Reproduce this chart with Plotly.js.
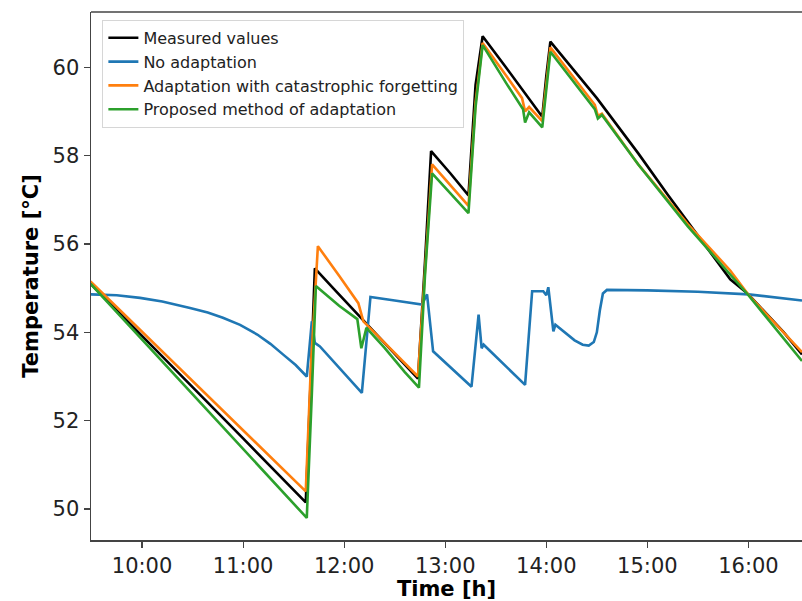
<!DOCTYPE html>
<html>
<head>
<meta charset="utf-8">
<script src="https://cdn.plot.ly/plotly-3.0.1.min.js"></script>
<style>html,body{margin:0;padding:0;background:#fff;}#chart{width:802px;height:601px;}</style>
</head>
<body>
<div id="chart"></div>
<script>
// Time in decimal hours, temperature in °C
const measured_t = [9.49, 10.0, 10.5, 11.0, 11.3, 11.62, 11.67, 11.71, 11.9, 12.16, 12.4, 12.6, 12.73, 12.80, 12.86, 13.05, 13.23, 13.30, 13.37, 13.6, 13.8, 13.96, 14.0, 14.04, 14.5, 14.91, 15.2, 15.5, 15.82, 16.0, 16.35, 16.53];
const measured_v = [55.1, 53.93, 52.76, 51.6, 50.9, 50.15, 53.0, 55.45, 54.98, 54.35, 53.76, 53.27, 52.95, 55.6, 58.1, 57.6, 57.1, 59.6, 60.7, 60.0, 59.38, 58.88, 59.8, 60.58, 59.3, 58.05, 57.12, 56.19, 55.2, 54.86, 54.0, 53.5];

const noadapt_t = [9.49, 9.75, 9.98, 10.2, 10.475, 10.65, 10.8, 10.97, 11.14, 11.27, 11.4, 11.52, 11.63, 11.68, 11.71, 11.76, 12.175, 12.26, 12.5, 12.77, 12.82, 12.88, 13.26, 13.33, 13.36, 13.38, 13.79, 13.86, 13.97, 14.0, 14.02, 14.07, 14.09, 14.18, 14.28, 14.36, 14.42, 14.47, 14.50, 14.53, 14.56, 14.6, 15.0, 15.5, 16.0, 16.53];
const noadapt_v = [54.86, 54.84, 54.78, 54.7, 54.55, 54.45, 54.33, 54.17, 53.95, 53.74, 53.49, 53.26, 53.0, 54.25, 53.76, 53.68, 52.63, 54.8, 54.72, 54.63, 54.86, 53.57, 52.77, 54.4, 53.64, 53.72, 52.81, 54.93, 54.93, 54.84, 55.02, 54.02, 54.17, 54.0, 53.82, 53.72, 53.7, 53.78, 54.0, 54.5, 54.88, 54.96, 54.95, 54.92, 54.86, 54.72];

const catastrophic_t = [9.49, 10.0, 10.5, 11.0, 11.3, 11.62, 11.67, 11.74, 11.95, 12.14, 12.19, 12.4, 12.6, 12.73, 12.80, 12.87, 13.05, 13.23, 13.30, 13.37, 13.6, 13.76, 13.79, 13.83, 13.96, 14.0, 14.04, 14.48, 14.51, 14.55, 14.91, 15.4, 15.82, 16.0, 16.53];
const catastrophic_v = [55.15, 54.01, 52.9, 51.78, 51.11, 50.4, 53.2, 55.95, 55.28, 54.66, 54.25, 53.76, 53.3, 53.0, 55.4, 57.8, 57.33, 56.86, 59.2, 60.55, 59.82, 59.3, 59.0, 59.1, 58.78, 59.6, 60.45, 59.15, 58.9, 58.95, 57.8, 56.45, 55.4, 54.85, 53.55];

const proposed_t = [9.49, 10.0, 10.5, 11.0, 11.3, 11.63, 11.68, 11.72, 11.95, 12.13, 12.17, 12.22, 12.4, 12.6, 12.74, 12.80, 12.87, 13.05, 13.23, 13.30, 13.37, 13.6, 13.77, 13.79, 13.83, 13.96, 14.0, 14.04, 14.48, 14.51, 14.55, 14.91, 15.4, 15.82, 16.0, 16.53];
const proposed_v = [55.1, 53.84, 52.6, 51.36, 50.62, 49.8, 52.6, 55.05, 54.6, 54.3, 53.64, 54.1, 53.65, 53.1, 52.75, 55.3, 57.6, 57.15, 56.7, 59.1, 60.5, 59.65, 59.05, 58.75, 58.98, 58.64, 59.5, 60.35, 59.05, 58.84, 58.92, 57.8, 56.4, 55.3, 54.84, 53.35];

const seriesNames = ["Measured values", "No adaptation", "Adaptation with catastrophic forgetting", "Proposed method of adaptation"];
const seriesColors = ["#000000", "#1f77b4", "#ff7f0e", "#2ca02c"];

const xTickVals = [10, 11, 12, 13, 14, 15, 16];
const xTickText = ["10:00", "11:00", "12:00", "13:00", "14:00", "15:00", "16:00"];
const yTickVals = [50, 52, 54, 56, 58, 60];

const xs = [measured_t, noadapt_t, catastrophic_t, proposed_t];
const ys = [measured_v, noadapt_v, catastrophic_v, proposed_v];

const traces = seriesNames.map((n, i) => ({
  x: xs[i], y: ys[i], name: n, type: 'scatter', mode: 'lines',
  line: {color: seriesColors[i], width: 2.6}
}));

const layout = {
  width: 802, height: 601,
  margin: {l: 91, r: 0, t: 12, b: 61},
  paper_bgcolor: '#ffffff', plot_bgcolor: '#ffffff',
  font: {family: 'DejaVu Sans, sans-serif', color: '#222', size: 16},
  showlegend: true,
  legend: {
    x: 0.016, y: 0.985, xanchor: 'left', yanchor: 'top',
    bgcolor: 'rgba(255,255,255,0.85)', bordercolor: '#d6d6d6', borderwidth: 1,
    font: {size: 16, color: '#222'}, tracegroupgap: 0
  },
  xaxis: {
    range: [9.495, 16.53], tickmode: 'array', tickvals: xTickVals, ticktext: xTickText,
    showgrid: false, zeroline: false, showline: true, linecolor: '#444', linewidth: 1.5,
    ticks: 'outside', ticklen: 6, tickwidth: 1.2, tickcolor: '#444',
    tickfont: {size: 21, color: '#222'},
    title: {text: '<b>Time [h]</b>', font: {size: 21, color: '#000'}, standoff: 4}
  },
  yaxis: {
    range: [49.3, 61.25], tickmode: 'array', tickvals: yTickVals,
    showgrid: false, zeroline: false, showline: true, linecolor: '#444', linewidth: 1.5,
    ticks: 'outside', ticklen: 6, tickwidth: 1.2, tickcolor: '#444',
    tickfont: {size: 21, color: '#222'},
    title: {text: '<b>Temperature [°C]</b>', font: {size: 21, color: '#000'}, standoff: 8}
  },
  shapes: [{type: 'line', xref: 'paper', yref: 'paper', x0: 0, x1: 1, y0: 1, y1: 1,
            line: {color: '#444', width: 1.5}}]
};

Plotly.newPlot('chart', traces, layout, {displayModeBar: false, staticPlot: true});
</script>
</body>
</html>
